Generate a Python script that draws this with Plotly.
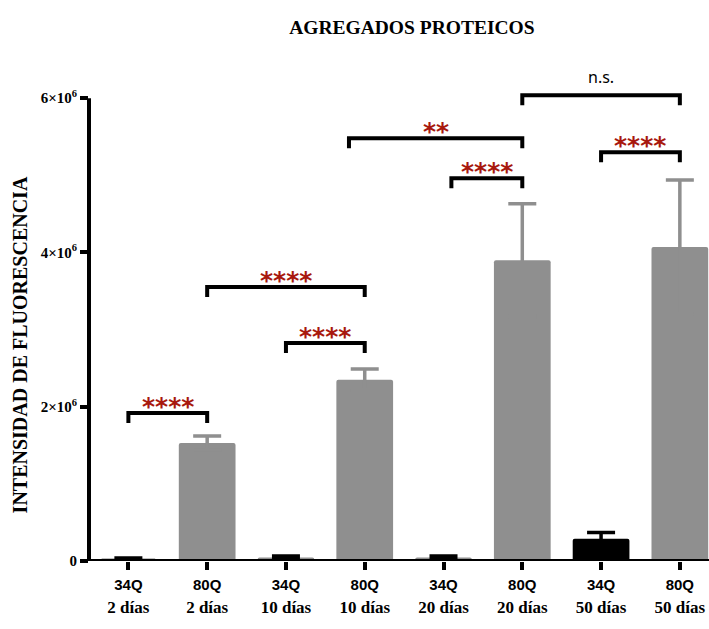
import plotly.graph_objects as go

# ---- data ----
strains = ["34Q", "80Q", "34Q", "80Q", "34Q", "80Q", "34Q", "80Q"]
days = ["2 días", "2 días", "10 días", "10 días", "20 días", "20 días", "50 días", "50 días"]
values = [0.03e6, 1.53e6, 0.045e6, 2.35e6, 0.045e6, 3.90e6, 0.29e6, 4.07e6]
errors = [0.01e6, 0.09e6, 0.02e6, 0.14e6, 0.02e6, 0.73e6, 0.08e6, 0.87e6]
bar_colors = ["#000000", "#8f8f8f", "#8f8f8f", "#8f8f8f", "#8f8f8f", "#8f8f8f", "#000000", "#8f8f8f"]

y_tickvals = [0, 2e6, 4e6, 6e6]
y_ticktext = ["0", "2×10<sup>6</sup>", "4×10<sup>6</sup>", "6×10<sup>6</sup>"]

# significance brackets: (left position, right position, height, label)
bracket_left = [0, 1, 2, 2.8, 4.1, 6, 5]
bracket_right = [1, 3, 3, 5, 5, 7, 7]
bracket_y = [1.918e6, 3.551e6, 2.825e6, 5.481e6, 4.963e6, 5.30e6, 6.039e6]
bracket_label = ["****", "****", "****", "**", "****", "****", "n.s."]

GRAY = "#8f8f8f"
STAR = "#a8180e"
SERIF = "Liberation Serif, Times New Roman, serif"

x_pos = list(range(len(strains)))
ticktext = [
    f"<span style='font-family:Liberation Sans, Arial;font-size:15px'><b>{s}</b></span><br><b>{d}</b>"
    for s, d in zip(strains, days)
]

fig = go.Figure()
for strain, err_color in [("34Q", "#000000"), ("80Q", GRAY)]:
    idx = [i for i, s in enumerate(strains) if s == strain]
    fig.add_trace(go.Bar(
        x=[x_pos[i] for i in idx],
        y=[values[i] for i in idx],
        marker=dict(color=[bar_colors[i] for i in idx], line=dict(width=0), cornerradius=2),
        width=0.72,
        error_y=dict(type="data", array=[errors[i] for i in idx], symmetric=True,
                     color=err_color, thickness=3.5, width=14),
        showlegend=False,
        name=strain,
    ))
# redraw bars of the 80Q series on top so only the upper half of their error bars shows
fig.data[1].update(error_y=dict(type="data", array=[errors[i] for i in range(1, 8, 2)],
                                symmetric=True, color=GRAY, thickness=3.5, width=14))

shapes = []
# axis lines
shapes.append(dict(type="line", xref="paper", yref="y", x0=0, x1=0, y0=0, y1=y_tickvals[-1],
                   line=dict(color="black", width=4)))
shapes.append(dict(type="line", xref="paper", yref="y", x0=0, x1=1, y0=0, y1=0,
                   line=dict(color="black", width=4)))

annotations = []
leg = 0.13e6
for xl, xr, yb, lab in zip(bracket_left, bracket_right, bracket_y, bracket_label):
    shapes.append(dict(type="path", xref="x", yref="y",
                       path=f"M {xl},{yb - leg} L {xl},{yb} L {xr},{yb} L {xr},{yb - leg}",
                       line=dict(color="black", width=4)))
    if lab == "n.s.":
        annotations.append(dict(x=(xl + xr) / 2, y=yb, xref="x", yref="y", text=lab,
                                showarrow=False, yanchor="bottom", yshift=5,
                                font=dict(family="Noto Sans", size=16, color="black")))
    else:
        annotations.append(dict(x=(xl + xr) / 2, y=yb, xref="x", yref="y", text=lab,
                                showarrow=False, yanchor="bottom", yshift=-10,
                                font=dict(family="DejaVu Sans", size=25, color=STAR, weight="bold")))

annotations.append(dict(x=-0.111, y=0.444, xref="paper", yref="paper",
                        text="INTENSIDAD DE FLUORESCENCIA", textangle=-90, showarrow=False,
                        xanchor="center", yanchor="middle",
                        font=dict(family=SERIF, size=20, color="black", weight="bold")))

fig.update_layout(
    width=709, height=629,
    margin=dict(l=89, r=0, t=75, b=68),
    paper_bgcolor="white", plot_bgcolor="white",
    barmode="overlay",
    title=dict(text="AGREGADOS PROTEICOS", x=0.581, xanchor="center", y=1 - 27 / 629,
               yanchor="middle", font=dict(family=SERIF, size=19.5, color="black", weight="bold")),
    shapes=shapes,
    annotations=annotations,
    xaxis=dict(range=[-0.5, 7.37], tickvals=x_pos, ticktext=ticktext, showgrid=False,
               zeroline=False, showline=False, ticks="outside", ticklen=8, tickwidth=4,
               tickcolor="black",
               tickfont=dict(family=SERIF, size=17, color="black")),
    yaxis=dict(range=[0, 6.3e6], tickvals=y_tickvals, ticktext=y_ticktext, showgrid=False,
               zeroline=False, showline=False, ticks="outside", ticklen=8, tickwidth=4,
               tickcolor="black",
               tickfont=dict(family=SERIF, size=15, color="black", weight="bold")),
)

fig.write_html("out.html", config={"displayModeBar": False},
               post_script="document.body.style.margin='0';")
